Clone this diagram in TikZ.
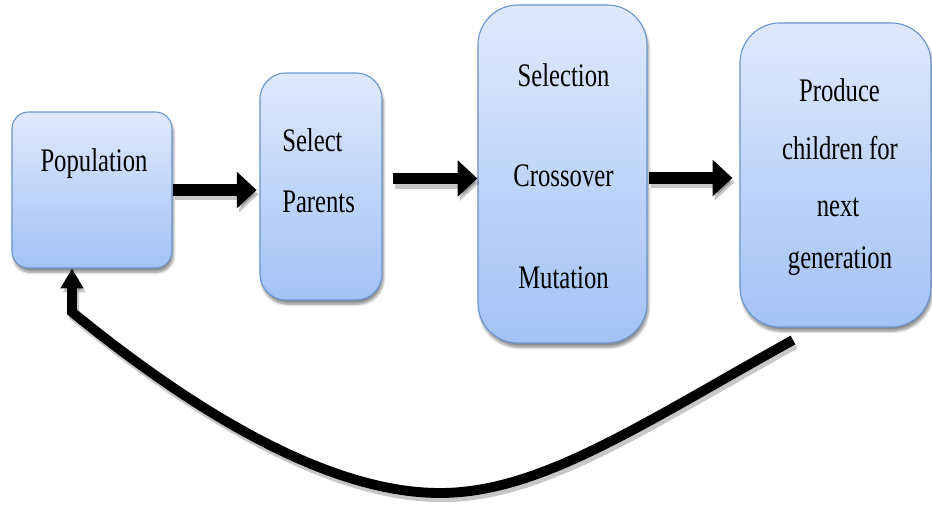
\documentclass[tikz,border=0pt]{standalone}
\usepackage{fontspec}
\setmainfont{Liberation Serif}[FakeStretch=0.75]
\usetikzlibrary{arrows.meta,calc,shadows.blur}

\definecolor{boxtop}{HTML}{DFE9FC}
\definecolor{boxbot}{HTML}{A3C2F6}
\definecolor{boxedge}{HTML}{6A95CF}

\tikzset{
  stage/.style={draw=boxedge, line width=0.8pt, top color=boxtop, bottom color=boxbot,
    rounded corners=#1, inner sep=0pt,
    blur shadow={shadow xshift=1pt, shadow yshift=-3pt, shadow blur steps=6, shadow opacity=45}},
  lbl/.style={font=\fontsize{23.4}{28}\selectfont, inner sep=0pt, anchor=base},
  flow/.style={line width=8.5pt, -{Triangle[width=25pt,length=14pt]}},
  back/.style={line width=7pt, line join=miter, -{Triangle[width=15.5pt,length=14pt]}},
  ghost/.style={draw=black, opacity=0.22, transform canvas={shift={(1.5pt,-3pt)}}},
}

\begin{document}
\begin{tikzpicture}[x=0.025cm, y=-0.025cm]
  \useasboundingbox (0,0) rectangle (932,511);

  % stages
  \node[stage=0.42cm, minimum width=4cm,   minimum height=3.9cm]   (b1) at (92,190)    {};
  \node[stage=0.65cm, minimum width=3.05cm, minimum height=5.675cm] (b2) at (321,186.5) {};
  \node[stage=1cm,    minimum width=4.225cm, minimum height=8.45cm] (b3) at (562.5,174) {};
  \node[stage=1cm,    minimum width=4.775cm, minimum height=7.6cm]  (b4) at (835.5,175) {};

  % labels
  \node[lbl] (t1) at (94,172) {Population};
  \node[lbl, anchor=base west] (t2a) at (282,152) {Select};
  \node[lbl, anchor=base west] (t2b) at (282,212) {Parents};
  \node[lbl] (t3a) at (563.5,87)  {Selection};
  \node[lbl] (t3b) at (563.5,187) {Crossover};
  \node[lbl] (t3c) at (563.5,288) {Mutation};
  \node[lbl] (t4a) at (839.5,102) {Produce};
  \node[lbl] (t4b) at (840,160)   {children for};
  \node[lbl] (t4c) at (838,217)   {next};
  \node[lbl] (t4d) at (840,268)   {generation};

  % connector end points
  \coordinate (a1s) at (b1.east);
  \coordinate (a2s) at ($(b2.east)+(10,-8)$);
  \coordinate (a3s) at ($(b3.east)+(1,4)$);
  \coordinate (fb0) at (793,340);
  \coordinate (fb1) at (72,312);

  % soft shadows under the connectors
  \draw[flow, ghost, shorten >=2pt] (a1s) -- (a1s -| b2.west);
  \draw[flow, ghost] (a2s) -- (a2s -| b3.west);
  \draw[flow, ghost, shorten >=5pt] (a3s) -- (a3s -| b4.west);
  \draw[back, ghost] (fb0) .. controls (640,425) and (540,493) .. (440,493)
    .. controls (320,493) and (180,400) .. (fb1) -- (fb1 |- b1.south);

  % connectors
  \draw[flow, shorten >=2pt] (a1s) -- (a1s -| b2.west);
  \draw[flow] (a2s) -- (a2s -| b3.west);
  \draw[flow, shorten >=5pt] (a3s) -- (a3s -| b4.west);
  \draw[back] (fb0) .. controls (640,425) and (540,493) .. (440,493)
    .. controls (320,493) and (180,400) .. (fb1) -- (fb1 |- b1.south);
\end{tikzpicture}
\end{document}
